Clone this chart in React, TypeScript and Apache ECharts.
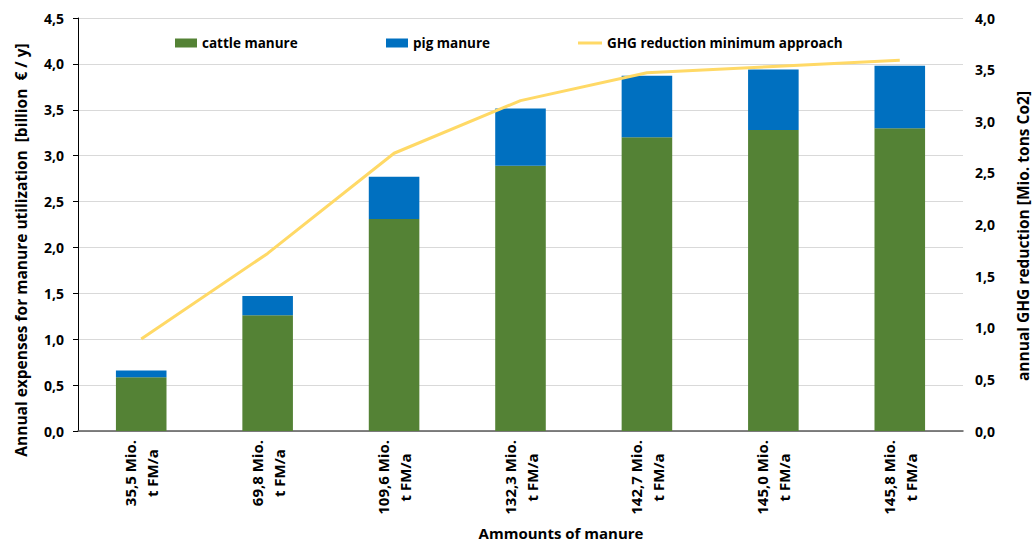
import React, { useEffect, useRef } from "react";
import * as echarts from "echarts";

const categories = [
  "35,5 Mio.\nt FM/a",
  "69,8 Mio.\nt FM/a",
  "109,6 Mio.\nt FM/a",
  "132,3 Mio.\nt FM/a",
  "142,7 Mio.\nt FM/a",
  "145,0 Mio.\nt FM/a",
  "145,8 Mio.\nt FM/a",
];
const cattleManure = [0.585, 1.26, 2.31, 2.89, 3.2, 3.28, 3.3];
const pigManure = [0.075, 0.21, 0.46, 0.625, 0.67, 0.66, 0.68];
const ghgReduction = [0.89, 1.72, 2.69, 3.2, 3.47, 3.53, 3.59];

const FONT = "'Open Sans', 'Noto Sans', sans-serif";
const fmt = (v: number) => v.toFixed(1).replace(".", ",");

export default function App() {
  const ref = useRef<HTMLDivElement>(null);
  useEffect(() => {
    if (!ref.current) return;
    const chart = echarts.init(ref.current, null, { renderer: "svg" });
    const legendText = { fontFamily: FONT, fontWeight: "bold" as const, fontSize: 13.5, color: "#000" };
    const legendBase = { top: 36, padding: 0, itemHeight: 9, itemGap: 0, textStyle: legendText };
    chart.setOption({
      animation: false,
      backgroundColor: "#ffffff",
      textStyle: { fontFamily: FONT },
      grid: { left: 78, right: 72, top: 18, bottom: 114, containLabel: false },
      legend: [
        { ...legendBase, data: [{ name: "cattle manure", icon: "rect" }], left: 175, itemWidth: 22 },
        { ...legendBase, data: [{ name: "pig manure", icon: "rect" }], left: 386, itemWidth: 22 },
        { ...legendBase, data: [{ name: "GHG reduction minimum approach", icon: "path://M0 0 H24 V3 H0 Z" }], left: 578, itemWidth: 24 },
      ],
      xAxis: {
        type: "category",
        data: categories,
        axisLine: { show: true, lineStyle: { color: "#595959", width: 1.5 } },
        axisTick: { show: false },
        axisLabel: {
          rotate: 90,
          margin: 9,
          interval: 0,
          formatter: (v: string) => v.split("\n").map((s) => `{a|${s}}`).join("\n"),
          rich: {
            a: { align: "center", fontFamily: FONT, fontWeight: "bold", fontSize: 15, lineHeight: 22, color: "#000" },
          },
        },
      },
      yAxis: [
        {
          type: "value",
          min: 0,
          max: 4.5,
          interval: 0.5,
          axisLine: { show: true, lineStyle: { color: "#000", width: 1 } },
          axisTick: { show: true, length: 5, lineStyle: { color: "#000" } },
          splitLine: { show: true, lineStyle: { color: "#d9d9d9", width: 1 } },
          axisLabel: { formatter: fmt, margin: 14, fontFamily: FONT, fontWeight: "bold", fontSize: 14, color: "#000" },
        },
        {
          type: "value",
          min: 0,
          max: 4.0,
          interval: 0.5,
          position: "right",
          axisLine: { show: false },
          axisTick: { show: false },
          splitLine: { show: false },
          axisLabel: { formatter: fmt, margin: 12, fontFamily: FONT, fontWeight: "bold", fontSize: 14, color: "#000" },
        },
      ],
      graphic: [
        {
          type: "text",
          x: 21,
          y: 250,
          rotation: Math.PI / 2,
          style: {
            text: "Annual expenses for manure utilization  [billion  \u20AC / y]",
            fontFamily: FONT,
            fontWeight: "bold",
            fontSize: 15.5,
            fill: "#000",
            align: "center",
            verticalAlign: "middle",
          },
        },
        {
          type: "text",
          x: 1023,
          y: 236,
          rotation: Math.PI / 2,
          style: {
            text: "annual GHG reduction [Mio. tons Co2]",
            fontFamily: FONT,
            fontWeight: "bold",
            fontSize: 15.5,
            fill: "#000",
            align: "center",
            verticalAlign: "middle",
          },
        },
        {
          type: "text",
          x: 561,
          y: 533,
          style: {
            text: "Ammounts of manure",
            fontFamily: FONT,
            fontWeight: "bold",
            fontSize: 15,
            fill: "#000",
            align: "center",
            verticalAlign: "middle",
          },
        },
      ],
      series: [
        {
          name: "cattle manure",
          type: "bar",
          stack: "total",
          barWidth: "40%",
          itemStyle: { color: "#548235" },
          data: cattleManure,
        },
        {
          name: "pig manure",
          type: "bar",
          stack: "total",
          barWidth: "40%",
          itemStyle: { color: "#0070C0" },
          data: pigManure,
        },
        {
          name: "GHG reduction minimum approach",
          type: "line",
          yAxisIndex: 1,
          symbol: "none",
          lineStyle: { color: "#FFD966", width: 3 },
          itemStyle: { color: "#FFD966" },
          z: 5,
          data: ghgReduction,
        },
      ],
    });
    return () => chart.dispose();
  }, []);
  return (
    <div
      ref={ref}
      style={{ position: "absolute", left: 0, top: 0, width: 1035, height: 545, background: "#fff" }}
    />
  );
}
